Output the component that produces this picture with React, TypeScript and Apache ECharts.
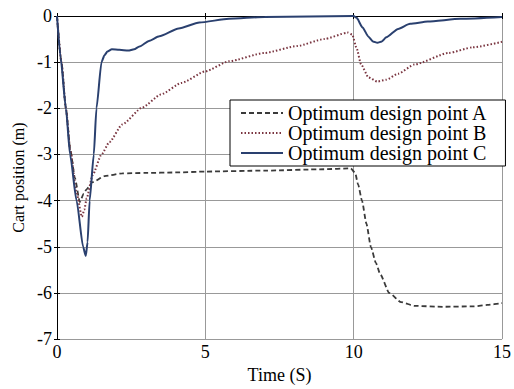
import React, { useEffect, useRef } from "react";
import * as echarts from "echarts";

const xTicks = [0, 5, 10, 15];
const yTicks = [0, -1, -2, -3, -4, -5, -6, -7];

const seriesNames = [
  "Optimum design point A",
  "Optimum design point B",
  "Optimum design point C",
];

const timeA = [0, 0.15, 0.3, 0.45, 0.6, 0.77, 0.9, 1.0, 1.2, 1.6, 2.2, 3, 4, 5, 7, 9, 9.9, 10.05, 10.15, 10.28, 10.43, 10.58, 10.75, 10.9, 11.2, 11.6, 12.05, 13, 14.06, 14.5, 15];
const posA = [0, -1.0, -2, -2.9, -3.5, -4.03, -3.85, -3.75, -3.6, -3.47, -3.41, -3.4, -3.39, -3.37, -3.35, -3.32, -3.3, -3.4, -3.65, -4.0, -4.5, -5.0, -5.35, -5.6, -6.0, -6.2, -6.28, -6.3, -6.29, -6.26, -6.22];

const timeB = [0, 0.15, 0.3, 0.45, 0.65, 0.84, 0.92, 1.0, 1.2, 1.5, 1.77, 2.2, 2.88, 3.5, 4.2, 5, 5.8, 7, 8.1, 9, 9.8, 9.95, 10.1, 10.25, 10.5, 10.8, 11.1, 11.5, 12.05, 13.2, 14, 15];
const posB = [0, -1.0, -2, -2.9, -3.8, -4.35, -4.2, -3.95, -3.45, -3.0, -2.73, -2.35, -1.98, -1.7, -1.45, -1.2, -0.98, -0.8, -0.65, -0.5, -0.36, -0.4, -0.7, -1.05, -1.33, -1.42, -1.38, -1.25, -1.05, -0.8, -0.68, -0.56];

const timeC = [0, 0.12, 0.3, 0.44, 0.66, 0.88, 0.97, 1.03, 1.1, 1.24, 1.33, 1.5, 1.6, 1.7, 1.85, 2.1, 2.4, 2.6, 2.78, 3.1, 3.45, 4.1, 4.8, 5.8, 7, 8.5, 10, 10.1, 10.3, 10.5, 10.65, 10.8, 10.95, 11.1, 11.5, 11.9, 12.5, 13.6, 15];
const posC = [0, -0.9, -2, -3, -4, -5, -5.2, -4.9, -4, -3, -2, -1, -0.85, -0.77, -0.72, -0.73, -0.75, -0.72, -0.66, -0.54, -0.44, -0.27, -0.14, -0.06, -0.02, -0.01, 0, -0.04, -0.25, -0.45, -0.55, -0.58, -0.55, -0.46, -0.28, -0.17, -0.12, -0.06, -0.02];

const zip = (t: number[], v: number[]) => t.map((x, i) => [x, v[i]]);

const FONT = "Liberation Serif";

export default function App() {
  const ref = useRef<HTMLDivElement>(null);
  useEffect(() => {
    if (!ref.current) return;
    const chart = echarts.init(ref.current, undefined, { renderer: "svg" });
    const boxAxis = {
      axisLine: { show: true, lineStyle: { color: "#000", width: 1 } },
      axisTick: { show: true, inside: true, length: 3, lineStyle: { color: "#000" } },
      axisLabel: { show: false },
      splitLine: { show: false },
    };
    chart.setOption({
      animation: false,
      backgroundColor: "#fff",
      textStyle: { fontFamily: FONT },
      grid: { left: 57, right: 9, top: 16, bottom: 39 },
      legend: {
        orient: "vertical",
        left: 230,
        top: 100,
        data: seriesNames,
        backgroundColor: "#fff",
        borderColor: "#000",
        borderWidth: 1,
        borderRadius: 0,
        padding: [3, 18, 3, 10],
        itemGap: 0,
        itemWidth: 42,
        itemHeight: 14,
        itemStyle: { opacity: 0 },
        textStyle: { fontFamily: FONT, fontSize: 20, color: "#000", lineHeight: 17 },
        z: 10,
      },
      xAxis: [
        {
          type: "value",
          min: 0,
          max: 15,
          interval: 5,
          position: "bottom",
          name: "Time (S)",
          nameLocation: "middle",
          nameGap: 22,
          nameTextStyle: { fontFamily: FONT, fontSize: 18, color: "#000" },
          axisLine: { show: true, lineStyle: { color: "#000", width: 1 } },
          axisTick: { show: true, inside: true, length: 3, lineStyle: { color: "#000" } },
          axisLabel: {
            fontFamily: FONT,
            fontSize: 18,
            color: "#000",
            margin: 4,
            formatter: (v: number) => (xTicks.includes(v) ? String(v) : ""),
          },
          splitLine: { show: true, lineStyle: { color: "#999", width: 1 } },
        },
        { type: "value", min: 0, max: 15, interval: 5, position: "top", ...boxAxis },
      ],
      yAxis: [
        {
          type: "value",
          min: -7,
          max: 0,
          interval: 1,
          position: "left",
          name: "Cart position (m)",
          nameLocation: "middle",
          nameGap: 24,
          nameRotate: 90,
          nameTextStyle: { fontFamily: FONT, fontSize: 16, color: "#000" },
          axisLine: { show: true, lineStyle: { color: "#000", width: 1 } },
          axisTick: { show: true, inside: true, length: 3, lineStyle: { color: "#000" } },
          axisLabel: {
            fontFamily: FONT,
            fontSize: 18,
            color: "#000",
            margin: 5,
            formatter: (v: number) => (yTicks.includes(v) ? String(v) : ""),
          },
          splitLine: { show: true, lineStyle: { color: "#999", width: 1 } },
        },
        { type: "value", min: -7, max: 0, interval: 1, position: "right", ...boxAxis },
      ],
      series: [
        {
          name: seriesNames[0],
          type: "line",
          data: zip(timeA, posA),
          showSymbol: false,
          symbol: "none",
          smooth: 0.2,
          smoothMonotone: "x",
          lineStyle: { color: "#3a3a3a", width: 1.8, type: [5, 3] },
          itemStyle: { color: "#3a3a3a" },
        },
        {
          name: seriesNames[1],
          type: "line",
          data: zip(timeB, posB),
          showSymbol: false,
          symbol: "none",
          smooth: 0.2,
          smoothMonotone: "x",
          lineStyle: { color: "#7a3540", width: 2, type: [1.5, 2] },
          itemStyle: { color: "#7a3540" },
        },
        {
          name: seriesNames[2],
          type: "line",
          data: zip(timeC, posC),
          showSymbol: false,
          symbol: "none",
          smooth: 0.2,
          smoothMonotone: "x",
          lineStyle: { color: "#2a406f", width: 2 },
          itemStyle: { color: "#2a406f" },
        },
      ],
    });
    return () => chart.dispose();
  }, []);
  return (
    <div
      ref={ref}
      style={{ position: "fixed", left: 0, top: 0, width: 514, height: 389, background: "#fff" }}
    />
  );
}
